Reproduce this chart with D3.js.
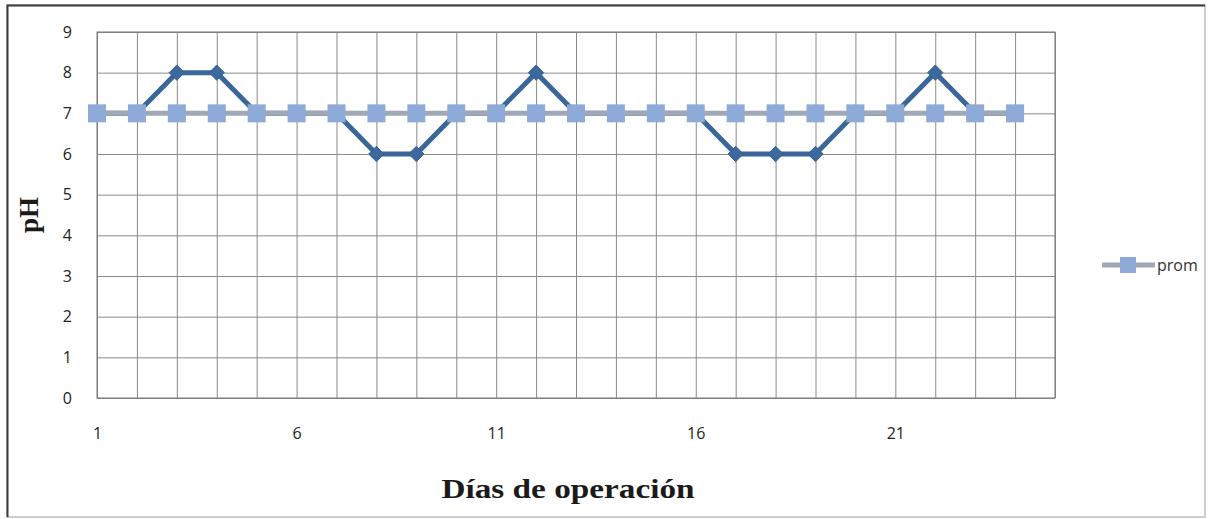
<!DOCTYPE html>
<html>
<head>
<meta charset="utf-8">
<script src="https://cdn.jsdelivr.net/npm/d3@7"></script>
<style>
  html, body { margin: 0; padding: 0; background: #fff; }
  svg { display: block; }
</style>
</head>
<body>
<svg id="chart" width="1213" height="519"></svg>
<script>
// Daily pH readings over the operating period
const days = d3.range(1, 26);                       // category axis 1..25
const phDaily = [7, 7, 8, 8, 7, 7, 7, 6, 6, 7, 7, 8, 7, 7, 7, 7, 6, 6, 6, 7, 7, 8, 7, 7];
const phProm  = [7, 7, 7, 7, 7, 7, 7, 7, 7, 7, 7, 7, 7, 7, 7, 7, 7, 7, 7, 7, 7, 7, 7, 7];
const yTicks  = [0, 1, 2, 3, 4, 5, 6, 7, 8, 9];
const xLabels = [1, 6, 11, 16, 21];
const seriesName = "prom";

const svg = d3.select("#chart");
const sans = "'Open Sans', 'Liberation Sans', sans-serif";
const serif = "'Liberation Serif', 'DejaVu Serif', serif";

// outer frame
svg.append("rect").attr("x", 7).attr("y", 5).attr("width", 1198).attr("height", 512)
  .attr("fill", "#fff").attr("stroke", "#bdbdbd").attr("stroke-width", 1.5);
svg.append("path").attr("d", "M7.5,517 V5.5 H1205")
  .attr("fill", "none").attr("stroke", "#3a3a3a").attr("stroke-width", 2);

const plot = { left: 97, right: 1055, top: 32, bottom: 398 };

const x = d3.scalePoint().domain(days).range([plot.left, plot.right]);
const y = d3.scaleLinear().domain([0, 9]).range([plot.bottom, plot.top]);

const g = svg.append("g");

// horizontal gridlines + y labels
const yAxis = d3.axisLeft(y).tickValues(yTicks).tickSize(-(plot.right - plot.left)).tickPadding(25);
g.append("g").attr("transform", `translate(${plot.left},0)`).call(yAxis)
  .call(s => s.select(".domain").remove())
  .call(s => s.selectAll(".tick line").attr("stroke", "#8a8a8a").attr("stroke-width", 1))
  .call(s => s.selectAll(".tick text").attr("fill", "#222")
    .style("font-family", sans).style("font-size", "16px"));

// vertical gridlines
const xGrid = d3.axisBottom(x).tickValues(days).tickSize(-(plot.bottom - plot.top)).tickFormat("");
g.append("g").attr("transform", `translate(0,${plot.bottom})`).call(xGrid)
  .call(s => s.select(".domain").remove())
  .call(s => s.selectAll(".tick line").attr("stroke", "#8a8a8a").attr("stroke-width", 1));

// x labels
const xAxis = d3.axisBottom(x).tickValues(xLabels).tickSize(0).tickPadding(30);
g.append("g").attr("transform", `translate(0,${plot.bottom})`).call(xAxis)
  .call(s => s.select(".domain").remove())
  .call(s => s.selectAll(".tick text").attr("fill", "#222")
    .style("font-family", sans).style("font-size", "16px"));

// plot frame
g.append("rect").attr("x", plot.left).attr("y", plot.top)
  .attr("width", plot.right - plot.left).attr("height", plot.bottom - plot.top)
  .attr("fill", "none").attr("stroke", "#777").attr("stroke-width", 1);

// daily series (dark line with diamonds)
const line = d3.line().x((d, i) => x(days[i])).y(d => y(d));
g.append("path").datum(phDaily).attr("d", line)
  .attr("fill", "none").attr("stroke", "#3b6699").attr("stroke-width", 5)
  .attr("stroke-linejoin", "round");
g.selectAll(".dia").data(phDaily).join("path").attr("class", "dia")
  .attr("transform", (d, i) => `translate(${x(days[i])},${y(d)})`)
  .attr("d", d3.symbol(d3.symbolDiamond2, 150)())
  .attr("fill", "#3d6a9e").attr("stroke", "#355e8e").attr("stroke-width", 1);

// average series (gray-blue line with squares)
g.append("path").datum(phProm).attr("d", line)
  .attr("fill", "none").attr("stroke", "#9ea8b6").attr("stroke-width", 5);
const sq = 18;
g.selectAll(".sq").data(phProm).join("rect").attr("class", "sq")
  .attr("x", (d, i) => x(days[i]) - sq / 2).attr("y", d => y(d) - sq / 2)
  .attr("width", sq).attr("height", sq).attr("fill", "#8eaad6");

// axis titles
svg.append("text").attr("x", 568).attr("y", 498).attr("text-anchor", "middle")
  .attr("textLength", 253).attr("lengthAdjust", "spacingAndGlyphs")
  .style("font-family", serif).style("font-weight", "bold")
  .style("font-size", "27px").attr("fill", "#1a1a1a").text("Días de operación");
svg.append("text").attr("transform", "translate(38,215) rotate(-90)").attr("text-anchor", "middle")
  .style("font-family", serif).style("font-weight", "bold")
  .style("font-size", "27px").attr("fill", "#1a1a1a").text("pH");

// legend
const lg = svg.append("g").attr("transform", "translate(1102,265)");
lg.append("line").attr("x1", 0).attr("x2", 53).attr("y1", 0).attr("y2", 0)
  .attr("stroke", "#9ea8b6").attr("stroke-width", 5);
lg.append("rect").attr("x", 26 - 8).attr("y", -8).attr("width", 16).attr("height", 16).attr("fill", "#8eaad6");
lg.append("text").attr("x", 55).attr("y", 6)
  .style("font-family", sans).style("font-size", "16px")
  .attr("fill", "#333").text(seriesName);
</script>
</body>
</html>
